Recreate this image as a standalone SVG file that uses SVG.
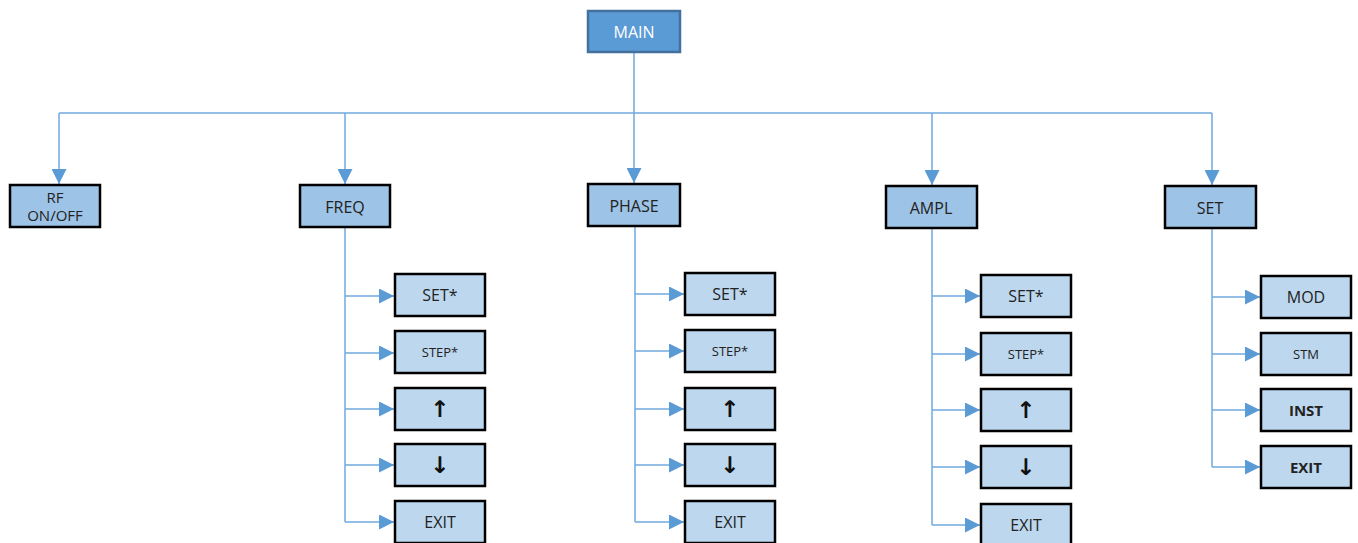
<svg xmlns="http://www.w3.org/2000/svg" width="1358" height="543" viewBox="0 0 1358 543">
<defs>
<style>
.top{fill:#9dc3e6;stroke:#000;stroke-width:2.5}
.sub{fill:#bdd7ee;stroke:#000;stroke-width:2.5}
.main{fill:#5b9bd5;stroke:#41719c;stroke-width:2.5}
text{font-family:"Open Sans","Liberation Sans",sans-serif;font-size:16px;fill:#222;text-anchor:middle;dominant-baseline:central}
.w{fill:#fff}
.s{font-size:13px}
.r{font-size:15px}
.b{font-weight:bold;font-size:15px}
.a{font-family:"DejaVu Sans",sans-serif;font-size:23px;font-weight:bold;fill:#111}
.c{fill:none;stroke:#6fa8dc;stroke-width:1.5}
</style>
<marker id="ah2" viewBox="0 0 12 12" refX="12" refY="6" markerWidth="15" markerHeight="15" markerUnits="userSpaceOnUse" orient="auto">
<path d="M0,0 L12,6 L0,12 z" fill="#5b9bd5"/>
</marker>
</defs>
<g id="connectors">
<path class="c" d="M634,52 V113"/>
<path class="c" d="M59,113 H1212"/>
<path class="c" d="M59,113 V184" marker-end="url(#ah2)"/>
<path class="c" d="M345,113 V184" marker-end="url(#ah2)"/>
<path class="c" d="M634,113 V183" marker-end="url(#ah2)"/>
<path class="c" d="M932,113 V185" marker-end="url(#ah2)"/>
<path class="c" d="M1212,113 V185" marker-end="url(#ah2)"/>
<path class="c" d="M345,227 V522"/>
<path class="c" d="M345,296 H394" marker-end="url(#ah2)"/>
<path class="c" d="M345,353 H394" marker-end="url(#ah2)"/>
<path class="c" d="M345,409 H394" marker-end="url(#ah2)"/>
<path class="c" d="M345,465 H394" marker-end="url(#ah2)"/>
<path class="c" d="M345,522 H394" marker-end="url(#ah2)"/>
<path class="c" d="M635,226 V522"/>
<path class="c" d="M635,294 H684" marker-end="url(#ah2)"/>
<path class="c" d="M635,351 H684" marker-end="url(#ah2)"/>
<path class="c" d="M635,409 H684" marker-end="url(#ah2)"/>
<path class="c" d="M635,465 H684" marker-end="url(#ah2)"/>
<path class="c" d="M635,522 H684" marker-end="url(#ah2)"/>
<path class="c" d="M932,228 V525"/>
<path class="c" d="M932,296 H980" marker-end="url(#ah2)"/>
<path class="c" d="M932,354 H980" marker-end="url(#ah2)"/>
<path class="c" d="M932,410 H980" marker-end="url(#ah2)"/>
<path class="c" d="M932,467 H980" marker-end="url(#ah2)"/>
<path class="c" d="M932,525 H980" marker-end="url(#ah2)"/>
<path class="c" d="M1212,228 V467"/>
<path class="c" d="M1212,297 H1260" marker-end="url(#ah2)"/>
<path class="c" d="M1212,354 H1260" marker-end="url(#ah2)"/>
<path class="c" d="M1212,410 H1260" marker-end="url(#ah2)"/>
<path class="c" d="M1212,467 H1260" marker-end="url(#ah2)"/>
</g>
<g id="main"><rect class="main" x="588" y="11" width="92" height="41"/><text class="w" x="634" y="32">MAIN</text></g>
<g id="rf"><rect class="top" x="10" y="185" width="90" height="42"/><text class="r" x="55" y="197">RF</text><text class="r" x="55" y="215">ON/OFF</text></g>
<g id="freq"><rect class="top" x="300" y="185" width="90" height="42"/><text x="345" y="207">FREQ</text></g>
<g id="phase"><rect class="top" x="588" y="184" width="92" height="42"/><text x="634" y="206">PHASE</text></g>
<g id="ampl"><rect class="top" x="886" y="186" width="91" height="42"/><text x="931" y="208">AMPL</text></g>
<g id="set"><rect class="top" x="1165" y="186" width="91" height="42"/><text x="1210" y="208">SET</text></g>

<g id="freq-set"><rect class="sub" x="395" y="274" width="90" height="42"/><text x="440" y="295">SET*</text></g>
<g id="freq-step"><rect class="sub" x="395" y="331" width="90" height="42"/><text class="s" x="440" y="352">STEP*</text></g>
<g id="freq-up"><rect class="sub" x="395" y="388" width="90" height="42"/><text class="a" x="440" y="409">↑</text></g>
<g id="freq-down"><rect class="sub" x="395" y="444" width="90" height="42"/><text class="a" x="440" y="465">↓</text></g>
<g id="freq-exit"><rect class="sub" x="395" y="501" width="90" height="42"/><text x="440" y="522">EXIT</text></g>

<g id="phase-set"><rect class="sub" x="685" y="273" width="90" height="42"/><text x="730" y="294">SET*</text></g>
<g id="phase-step"><rect class="sub" x="685" y="330" width="90" height="42"/><text class="s" x="730" y="351">STEP*</text></g>
<g id="phase-up"><rect class="sub" x="685" y="388" width="90" height="42"/><text class="a" x="730" y="409">↑</text></g>
<g id="phase-down"><rect class="sub" x="685" y="444" width="90" height="42"/><text class="a" x="730" y="465">↓</text></g>
<g id="phase-exit"><rect class="sub" x="685" y="501" width="90" height="42"/><text x="730" y="522">EXIT</text></g>

<g id="ampl-set"><rect class="sub" x="981" y="275" width="90" height="42"/><text x="1026" y="296">SET*</text></g>
<g id="ampl-step"><rect class="sub" x="981" y="333" width="90" height="42"/><text class="s" x="1026" y="354">STEP*</text></g>
<g id="ampl-up"><rect class="sub" x="981" y="389" width="90" height="42"/><text class="a" x="1026" y="410">↑</text></g>
<g id="ampl-down"><rect class="sub" x="981" y="446" width="90" height="42"/><text class="a" x="1026" y="467">↓</text></g>
<g id="ampl-exit"><rect class="sub" x="981" y="504" width="90" height="42"/><text x="1026" y="525">EXIT</text></g>

<g id="set-mod"><rect class="sub" x="1261" y="276" width="90" height="42"/><text x="1306" y="297">MOD</text></g>
<g id="set-stm"><rect class="sub" x="1261" y="333" width="90" height="42"/><text class="s" x="1306" y="354">STM</text></g>
<g id="set-inst"><rect class="sub" x="1261" y="389" width="90" height="42"/><text class="b" x="1306" y="410">INST</text></g>
<g id="set-exit"><rect class="sub" x="1261" y="446" width="90" height="42"/><text class="b" x="1306" y="467">EXIT</text></g>
</svg>
